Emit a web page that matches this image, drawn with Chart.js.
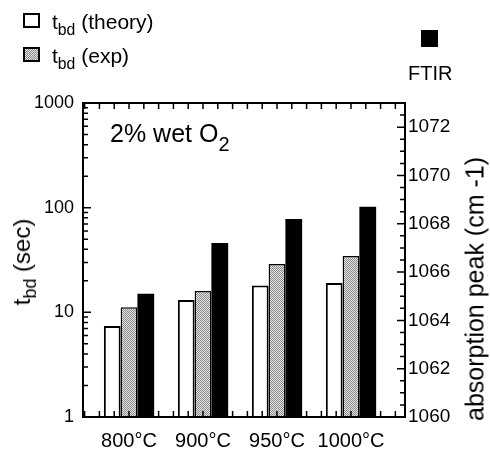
<!DOCTYPE html>
<html>
<head>
<meta charset="utf-8">
<script src="https://cdn.jsdelivr.net/npm/chart.js@4.4.0/dist/chart.umd.min.js"></script>
<style>
  body { margin: 0; background: #fff; }
  #wrap { position: relative; width: 490px; height: 454px; font-family: "Liberation Sans", Arial, Helvetica, sans-serif; color: #000; }
  #wrap canvas { position: absolute; left: 0; top: 0; }
  .txt { position: absolute; white-space: nowrap; line-height: 1; }
  .txt sub { font-size: 0.75em; vertical-align: -0.35em; line-height: 0; }
  .box { position: absolute; box-sizing: border-box; border: 2px solid #000; }
  .rot { transform: translate(-50%, -50%) rotate(-90deg); }
</style>
</head>
<body>
<div id="wrap">
  <canvas id="chart" width="490" height="454"></canvas>

  <div class="box" id="boxTheory" style="left:23px;top:13px;width:17px;height:15px;background:#fff;"></div>
  <div class="txt" style="left:52px;top:11px;font-size:21px;">t<sub>bd</sub> (theory)</div>
  <div class="box" id="boxExp" style="left:23px;top:47px;width:17px;height:15px;"></div>
  <div class="txt" style="left:52px;top:45px;font-size:21px;">t<sub>bd</sub> (exp)</div>

  <div class="box" style="left:421px;top:30px;width:17px;height:17px;background:#000;"></div>
  <div class="txt" style="left:408px;top:63px;font-size:20px;">FTIR</div>

  <div class="txt" style="left:110px;top:121px;font-size:25px;">2% wet O<sub style="font-size:0.8em;vertical-align:-0.45em;">2</sub></div>

  <div class="txt rot" style="left:22px;top:262px;font-size:24px;">t<sub>bd</sub> (sec)</div>
  <div class="txt rot" style="left:475px;top:289px;font-size:25px;">absorption peak (cm -1)</div>
</div>
<script>
// categories and values
const categories = ["800°C", "900°C", "950°C", "1000°C"];
const theory = [7.4, 13.1, 18.0, 19.1];
const experiment = [11.2, 16.0, 29.0, 34.5];
const ftirPeak = [1065.1, 1067.2, 1068.2, 1068.7];
const leftTicks = [1, 10, 100, 1000];
const rightTicks = [1060, 1062, 1064, 1066, 1068, 1070, 1072];

const FONT = "'Liberation Sans', Arial, Helvetica, sans-serif";

// light dotted gray fill used for the experimental bars
function makePattern() {
    const c = document.createElement("canvas");
    c.width = 2;
    c.height = 2;
    const g = c.getContext("2d");
    g.fillStyle = "#e4e4e4";
    g.fillRect(0, 0, 2, 2);
    g.fillStyle = "#8a8a8a";
    g.fillRect(0, 0, 1, 1);
    g.fillRect(1, 1, 1, 1);
    return g.createPattern(c, "repeat");
}
const grayPattern = makePattern();
document.getElementById("boxExp").style.background =
    "repeating-conic-gradient(#8a8a8a 0% 25%, #e4e4e4 0% 50%) 0 0 / 2px 2px";

const toPoints = arr => arr.map((v, i) => ({ x: i + 1, y: v }));

// frame with inward tick marks on all four sides
const frameTicks = {
    id: "frameTicks",
    afterDraw(chart) {
        const { ctx, chartArea: a, scales } = chart;
        ctx.save();
        ctx.strokeStyle = "#000";
        ctx.lineWidth = 2;
        ctx.strokeRect(a.left, a.top, a.right - a.left, a.bottom - a.top);

        ctx.lineWidth = 1.5;
        ctx.beginPath();
        // left log axis
        for (let d = 0; d < 3; d++) {
            for (let m = 1; m <= 9; m++) {
                const y = scales.y.getPixelForValue(m * Math.pow(10, d));
                const len = m === 1 ? 8 : 5;
                ctx.moveTo(a.left, y);
                ctx.lineTo(a.left + len, y);
            }
        }
        // right linear axis
        for (let v = 1060; v <= 1073; v += 0.5) {
            const y = scales.y2.getPixelForValue(v);
            const len = v % 2 === 0 ? 8 : 5;
            ctx.moveTo(a.right, y);
            ctx.lineTo(a.right - len, y);
        }
        // top and bottom
        const xs = scales.x;
        for (let v = Math.ceil(xs.min / 0.2) * 0.2; v < xs.max; v += 0.2) {
            const x = xs.getPixelForValue(v);
            ctx.moveTo(x, a.top);
            ctx.lineTo(x, a.top + 6);
            ctx.moveTo(x, a.bottom);
            ctx.lineTo(x, a.bottom - 6);
        }
        ctx.stroke();
        ctx.restore();
    },
};

new Chart(document.getElementById("chart"), {
    type: "bar",
    data: {
        datasets: [
            {
                label: "tbd (theory)",
                data: toPoints(theory),
                yAxisID: "y",
                backgroundColor: "#fff",
                borderColor: "#000",
                borderWidth: 2,
            },
            {
                label: "tbd (exp)",
                data: toPoints(experiment),
                yAxisID: "y",
                backgroundColor: grayPattern,
                borderColor: "#000",
                borderWidth: 1.5,
            },
            {
                label: "FTIR",
                data: toPoints(ftirPeak),
                yAxisID: "y2",
                backgroundColor: "#000",
                borderColor: "#000",
                borderWidth: 0,
            },
        ],
    },
    options: {
        responsive: false,
        animation: false,
        layout: { padding: { top: 103, left: 0, right: 0, bottom: 0 } },
        categoryPercentage: 0.68,
        barPercentage: 1.0,
        plugins: {
            legend: { display: false },
            tooltip: { enabled: false },
        },
        scales: {
            x: {
                type: "linear",
                min: 0.378,
                max: 4.73,
                offset: false,
                grid: { display: false, drawTicks: false },
                border: { display: false },
                afterBuildTicks: s => { s.ticks = categories.map((c, i) => ({ value: i + 1 })); },
                afterFit: s => { s.height = 37; },
                ticks: {
                    autoSkip: false,
                    maxRotation: 0,
                    padding: 12,
                    color: "#000",
                    font: { family: FONT, size: 20 },
                    callback: v => categories[v - 1] || "",
                },
            },
            y: {
                type: "logarithmic",
                position: "left",
                min: 1,
                max: 1000,
                grid: { display: false, drawTicks: false },
                border: { display: false },
                afterBuildTicks: s => { s.ticks = leftTicks.map(v => ({ value: v })); },
                afterFit: s => { s.width = 83; },
                ticks: {
                    autoSkip: false,
                    padding: 9,
                    color: "#000",
                    font: { family: FONT, size: 18 },
                    callback: v => String(v),
                },
            },
            y2: {
                type: "linear",
                position: "right",
                min: 1060,
                max: 1073,
                grid: { display: false, drawTicks: false },
                border: { display: false },
                afterBuildTicks: s => { s.ticks = rightTicks.map(v => ({ value: v })); },
                afterFit: s => { s.width = 85; },
                ticks: {
                    autoSkip: false,
                    padding: 3,
                    color: "#000",
                    font: { family: FONT, size: 19 },
                    callback: v => String(v),
                },
            },
        },
    },
    plugins: [frameTicks],
});
</script>
</body>
</html>
